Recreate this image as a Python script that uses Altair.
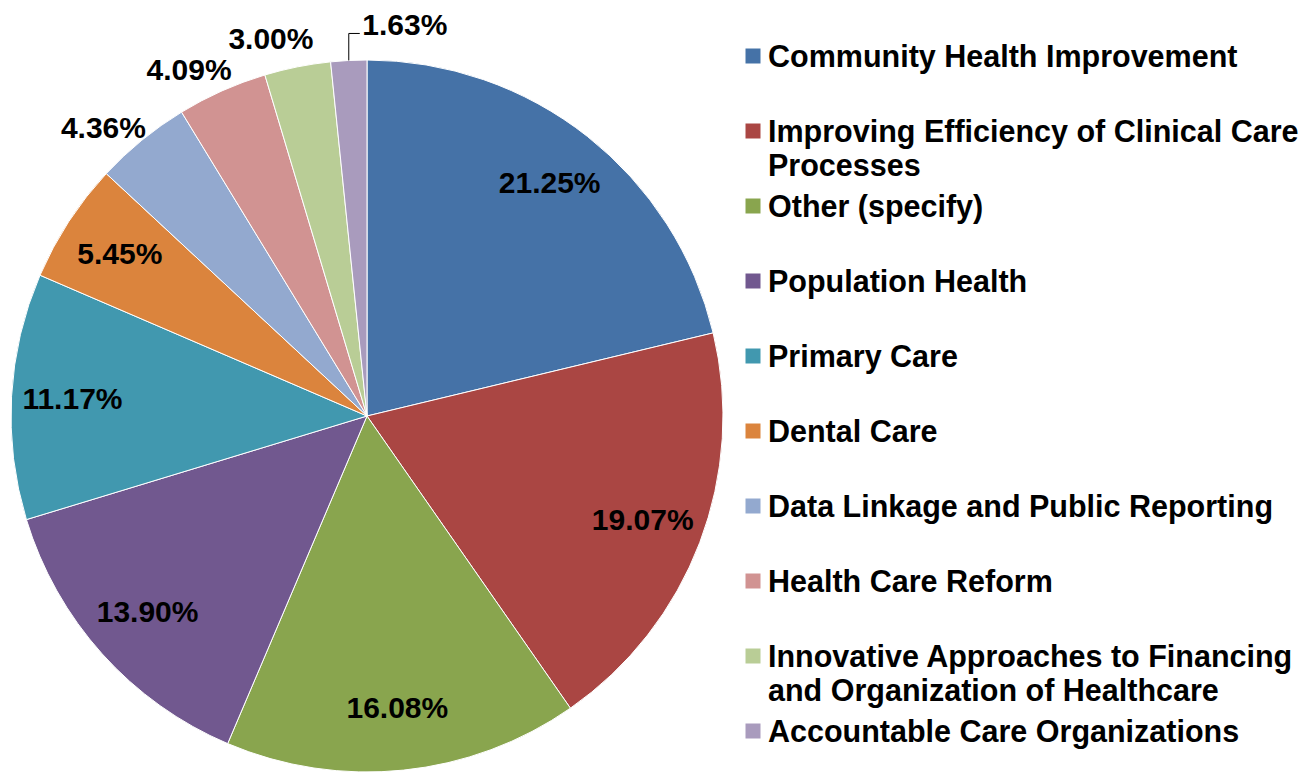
import altair as alt
import pandas as pd

categories = [
    "Community Health Improvement",
    "Improving Efficiency of Clinical Care Processes",
    "Other (specify)",
    "Population Health",
    "Primary Care",
    "Dental Care",
    "Data Linkage and Public Reporting",
    "Health Care Reform",
    "Innovative Approaches to Financing and Organization of Healthcare",
    "Accountable Care Organizations",
]
legend_labels = [
    "Community Health Improvement",
    "Improving Efficiency of Clinical Care\nProcesses",
    "Other (specify)",
    "Population Health",
    "Primary Care",
    "Dental Care",
    "Data Linkage and Public Reporting",
    "Health Care Reform",
    "Innovative Approaches to Financing\nand Organization of Healthcare",
    "Accountable Care Organizations",
]
values = [21.25, 19.07, 16.08, 13.90, 11.17, 5.45, 4.36, 4.09, 3.00, 1.63]
colors = ["#4572A7", "#AA4643", "#89A54E", "#71588F", "#4198AF",
          "#DB843D", "#93A9CF", "#D19392", "#B9CD96", "#A99BBD"]

df = pd.DataFrame({
    "cat": categories,
    "label": legend_labels,
    "value": values,
    "idx": list(range(len(categories))),
})

FONT = "Liberation Sans, Arial, sans-serif"
TOP = 8
CX, CY, R = 359, 416 - 8 - TOP, 356

color = alt.Color("cat:N", scale=alt.Scale(domain=categories, range=colors), legend=None)

base = alt.Chart(df).transform_window(
    cum="sum(value)", sort=[alt.SortField("idx")]
).transform_calculate(
    mid="datum.cum - datum.value / 2",
    pct="format(datum.value, '.2f') + '%'",
).transform_calculate(
    omid="datum.mid - 0.8",
)

arcs = alt.Chart(df).mark_arc(radius=R, stroke="white", strokeWidth=1).encode(
    theta=alt.Theta("value:Q", stack=True),
    order=alt.Order("idx:Q"),
    color=color,
    x=alt.value(CX),
    y=alt.value(CY),
)

theta_mid = alt.Theta("mid:Q", scale=alt.Scale(domain=[0, 100]))
theta_out = alt.Theta("omid:Q", scale=alt.Scale(domain=[0, 100]))

txt = dict(font=FONT, fontWeight="bold", fontSize=30, color="black")

inside = base.transform_filter("datum.value >= 5").mark_text(
    radius=295, **txt
).encode(theta=theta_mid, text="pct:N", x=alt.value(CX), y=alt.value(CY))

outside = base.transform_filter("datum.value < 5 && datum.value >= 2").mark_text(
    radius=393, dy=5, **txt
).encode(theta=theta_out, text="pct:N", x=alt.value(CX), y=alt.value(CY))

tiny = base.transform_filter("datum.value < 2").mark_text(
    radius=395, dx=58, dy=4, **txt
).encode(theta=theta_mid, text="pct:N", x=alt.value(CX), y=alt.value(CY))

lead = base.transform_filter("datum.value < 2").transform_calculate(
    a="datum.mid / 100 * 2 * PI",
).transform_calculate(
    x0=f"{CX} + {R} * sin(datum.a)",
    y0=f"{CY} - {R} * cos(datum.a)",
).transform_calculate(
    y1="datum.y0 - 27",
    x1="datum.x0 + 11",
)
lead_v = lead.mark_rule(color="black", strokeWidth=1).encode(
    x=alt.X("x0:Q", scale=None), y=alt.Y("y0:Q", scale=None),
    x2="x0:Q", y2="y1:Q",
)
lead_h = lead.mark_rule(color="black", strokeWidth=1).encode(
    x=alt.X("x0:Q", scale=None), y=alt.Y("y1:Q", scale=None),
    x2="x1:Q", y2="y1:Q",
)

row_y = alt.Y("idx:O", scale=alt.Scale(type="point", range=[56 - 8 - TOP, 731 - 8 - TOP], padding=0), axis=None)

leg_sq = alt.Chart(df).mark_square(size=225, opacity=1).encode(
    x=alt.value(745), y=row_y, color=color,
)
leg_txt = alt.Chart(df).mark_text(
    align="left", baseline="top", dy=-13, lineBreak="\n", lineHeight=34,
    font=FONT, fontWeight="bold", fontSize=30.5, color="black",
).encode(x=alt.value(760), y=row_y, text="label:N")

chart = alt.layer(
    arcs, inside, outside, tiny, lead_v, lead_h, leg_sq, leg_txt
).resolve_scale(
    y="independent", x="independent", theta="independent"
).properties(
    width=1299, height=780, autosize=alt.AutoSizeParams(type="none"),
    padding={"left": 0, "top": TOP, "right": 0, "bottom": 0},
).configure_view(stroke=None)

chart.save("out.html", embed_options={"renderer": "svg", "actions": False})
